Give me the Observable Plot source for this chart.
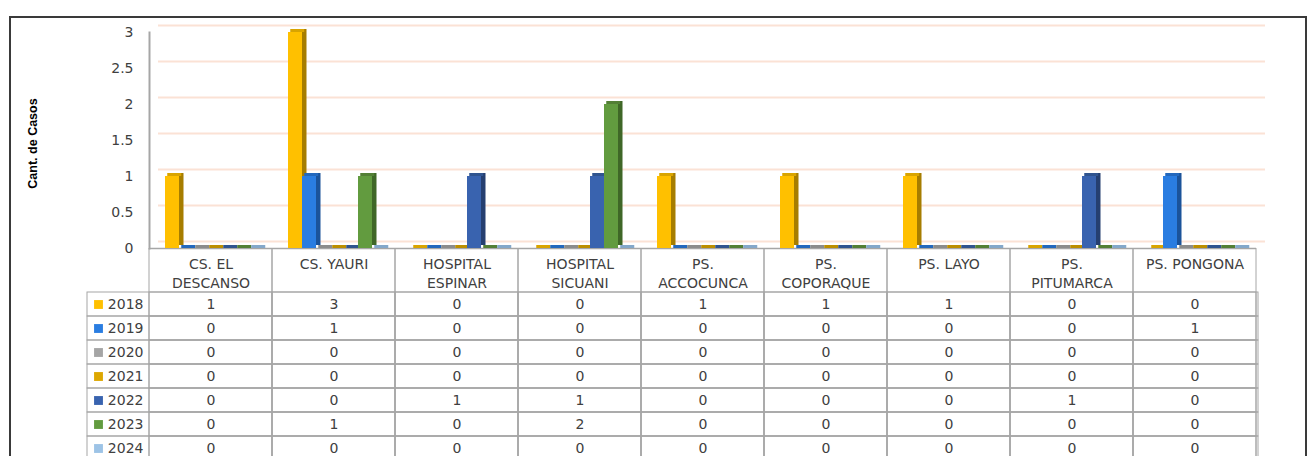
<!DOCTYPE html>
<html><head><meta charset="utf-8">
<script src="https://cdn.jsdelivr.net/npm/d3@7"></script>
<script src="https://cdn.jsdelivr.net/npm/@observablehq/plot@0.6"></script>
<style>
html,body{margin:0;padding:0;background:#fff;}
#wrap{position:relative;width:1308px;height:456px;overflow:hidden;background:#fff;}
#border{position:absolute;left:9px;top:16px;width:1298px;height:470px;border:2px solid #3a3a3a;border-bottom:none;box-sizing:border-box;}
#chart,#table{position:absolute;left:0;}
#chart{top:0px;}
#table{top:248px;}
</style></head><body>
<div id="wrap"><div id="border"></div><div id="chart"></div><div id="table"></div></div>
<script>
const categories = ["CS. EL DESCANSO","CS. YAURI","HOSPITAL ESPINAR","HOSPITAL SICUANI","PS. ACCOCUNCA","PS. COPORAQUE","PS. LAYO","PS. PITUMARCA","PS. PONGONA"];
const headerLabels = ["CS. EL\nDESCANSO","CS. YAURI","HOSPITAL\nESPINAR","HOSPITAL\nSICUANI","PS.\nACCOCUNCA","PS.\nCOPORAQUE","PS. LAYO","PS.\nPITUMARCA","PS. PONGONA"];
const years = [2018, 2019, 2020, 2021, 2022, 2023, 2024];
const v2018 = [1, 3, 0, 0, 1, 1, 1, 0, 0];
const v2019 = [0, 1, 0, 0, 0, 0, 0, 0, 1];
const v2020 = [0, 0, 0, 0, 0, 0, 0, 0, 0];
const v2021 = [0, 0, 0, 0, 0, 0, 0, 0, 0];
const v2022 = [0, 0, 1, 1, 0, 0, 0, 1, 0];
const v2023 = [0, 1, 0, 2, 0, 0, 0, 0, 0];
const v2024 = [0, 0, 0, 0, 0, 0, 0, 0, 0];
const yTicks = [0, 0.5, 1, 1.5, 2, 2.5, 3];
const yTickLabels = ["0", "0.5", "1", "1.5", "2", "2.5", "3"];
const yLabel = "Cant. de Casos";

const frontColors = ["#FFC000", "#2A7DE1", "#A5A5A5", "#DDA700", "#3963AF", "#629B3F", "#9DC3E6"];
const sideColors  = ["#A67D00", "#1B539A", "#6E6E6E", "#8F6C00", "#253F70", "#3F6727", "#6A8DAF"];
const topColors   = ["#D9A400", "#2368BD", "#8C8C8C", "#BC8E00", "#30548F", "#537F35", "#84A8CA"];

const seriesValues = [v2018, v2019, v2020, v2021, v2022, v2023, v2024];
const rows = [];
years.forEach((yr, s) => categories.forEach((c, i) => rows.push({category: c, year: yr, s, value: seriesValues[s][i]})));

const grid = "#A6A6A6";
const textColor = "#404040";

const chart = Plot.plot({
  width: 1308, height: 262,
  marginTop: 32, marginBottom: 14, marginLeft: 147, marginRight: 50,
  style: {background: "transparent", fontFamily: "DejaVu Sans", fontSize: "14px", color: textColor},
  fx: {domain: categories, padding: 0, axis: null},
  x: {domain: years, padding: 0, insetLeft: 15, insetRight: 8, axis: null},
  y: {domain: [0, 3], ticks: yTicks, tickFormat: d => yTickLabels[yTicks.indexOf(d)], tickSize: 0, tickPadding: 16, label: null},
  color: {type: "identity"},
  marks: [
    Plot.ruleY(yTicks, {dx: 9, dy: -7, stroke: "#FBE2D5", strokeWidth: 2}),
    Plot.ruleY([0], {stroke: grid, strokeWidth: 1.5}),
    Plot.frame({anchor: "left", facetAnchor: "left", stroke: grid, strokeWidth: 2}),
    Plot.text([yLabel], {frameAnchor: "left", facetAnchor: "left", textAnchor: "middle", dx: -117, dy: 3, rotate: -90, fontWeight: "bold", fontSize: 12.5, fontFamily: "Liberation Sans", fill: "#000"}),
    Plot.barY(rows, {fx: "category", x: "year", y: "value", fill: d => sideColors[d.s], dx: 4.5, dy: -3}),
    Plot.barY(rows, {fx: "category", x: "year", y1: "value", y2: "value", insetTop: -3, dx: 2.25, fill: d => topColors[d.s]}),
    Plot.barY(rows, {fx: "category", x: "year", y: "value", fill: d => frontColors[d.s]})
  ]
});
document.getElementById("chart").append(chart);

const table = Plot.plot({
  width: 1308, height: 212,
  marginTop: 44, marginBottom: 0, marginLeft: 147, marginRight: 50,
  style: {background: "transparent", fontFamily: "DejaVu Sans", fontSize: "14px", color: textColor},
  x: {domain: categories, padding: 0, axis: null},
  y: {domain: years, padding: 0, axis: null},
  color: {type: "identity"},
  marks: [
    Plot.cell(categories, {x: d => d, insetTop: -44, fill: "none", stroke: grid}),
    Plot.cell(years, {y: d => d, insetLeft: -60, fill: "none", stroke: grid}),
    Plot.cell(rows, {x: "category", y: "year", fill: "none", stroke: grid}),
    Plot.text(rows, {x: "category", y: "year", text: d => String(d.value), fill: textColor}),
    Plot.text(categories, {x: d => d, frameAnchor: "top", dy: -36, lineAnchor: "top", lineHeight: 1.3, text: (d, i) => headerLabels[i], fill: textColor}),
    Plot.dot(years, {y: d => d, frameAnchor: "left", dx: -49, symbol: "square", r: 5, fill: (d, i) => frontColors[i]}),
    Plot.text(years, {y: d => d, frameAnchor: "left", dx: -4, textAnchor: "end", text: d => String(d), fill: textColor})
  ]
});
document.getElementById("table").append(table);
</script>
</body></html>
